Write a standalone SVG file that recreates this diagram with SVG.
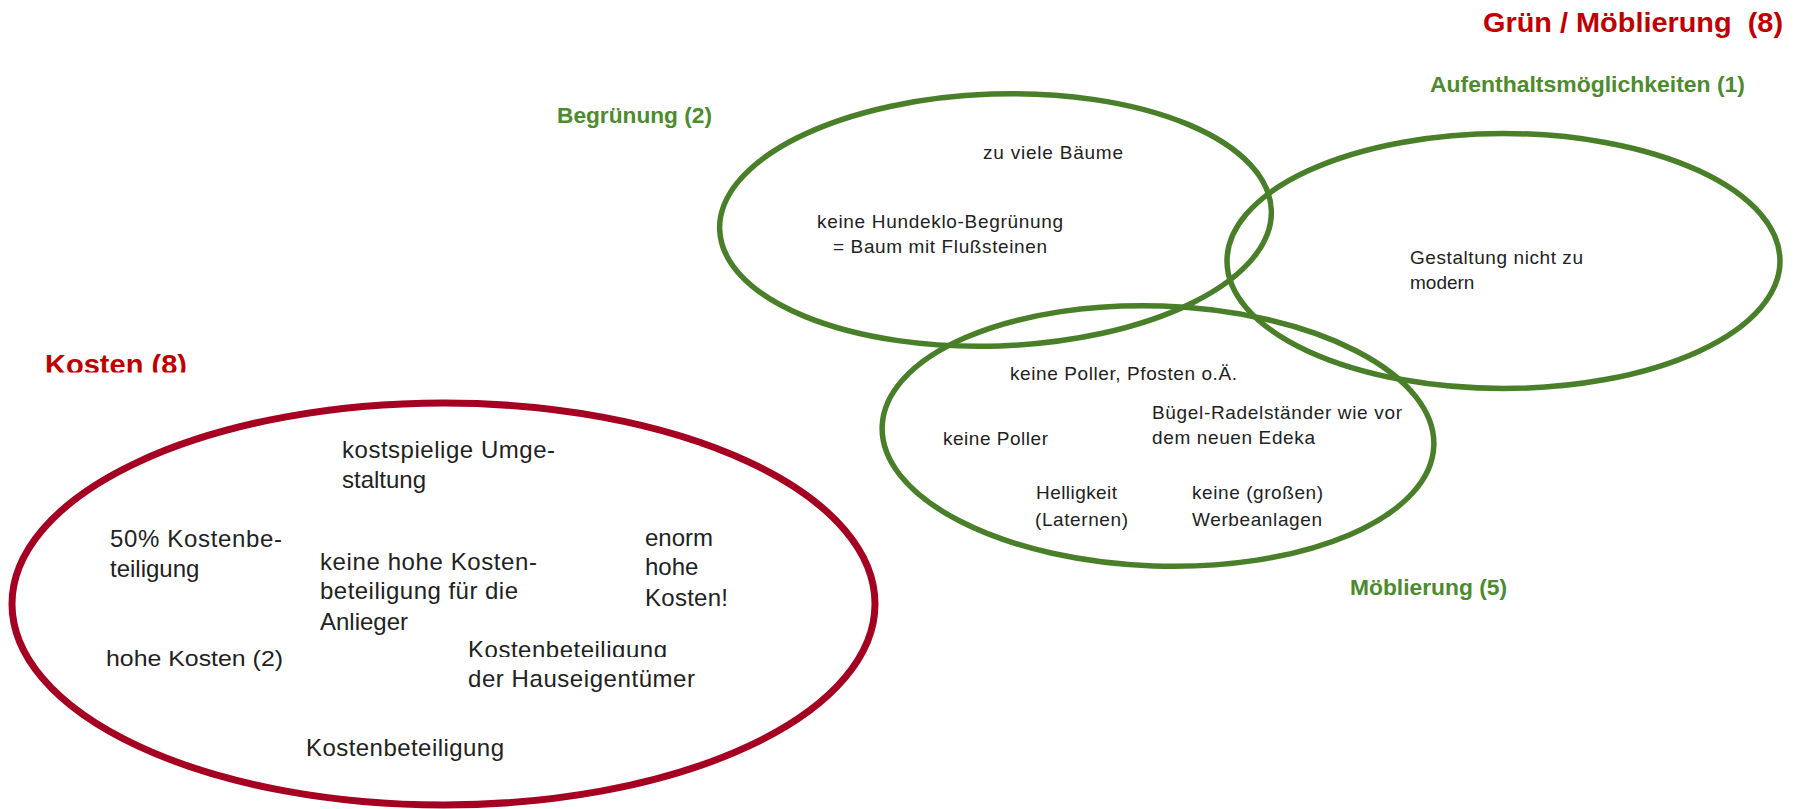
<svg xmlns="http://www.w3.org/2000/svg" width="1794" height="809" viewBox="0 0 1794 809">
<defs>
<style>
.bg{fill:#ffffff}
.eg{fill:none;stroke:#4a7f2a;stroke-width:5.5}
.er{fill:none;stroke:#a50021;stroke-width:7}
.t{font-family:"Liberation Sans",Arial,sans-serif;fill:#222222}
.s{font-size:19px}
.m{font-size:24px}
.gl{font-family:"Liberation Sans",Arial,sans-serif;font-weight:bold;font-size:22px;fill:#4e8a2e}
.rl{font-family:"Liberation Sans",Arial,sans-serif;font-weight:bold;font-size:27px;fill:#c00000}
</style>
<clipPath id="clipK"><rect x="0" y="330" width="400" height="42.5"/></clipPath>
<clipPath id="clipKB"><rect x="440" y="620" width="300" height="37"/></clipPath>
</defs>
<rect class="bg" x="0" y="0" width="1794" height="809"/>

<g id="title">
<text class="rl" x="1483" y="32" textLength="300" lengthAdjust="spacingAndGlyphs">Grün / Möblierung &#160;(8)</text>
</g>

<g id="begruenung">
<ellipse class="eg" cx="995.5" cy="220" rx="276" ry="126" transform="rotate(-2 995.5 220)"/>
<text class="gl" x="557" y="123" textLength="155" lengthAdjust="spacingAndGlyphs">Begrünung (2)</text>
<text class="t s" x="983" y="159" textLength="140">zu viele Bäume</text>
<text class="t s" x="817" y="228" textLength="246">keine Hundeklo-Begrünung</text>
<text class="t s" x="833" y="253" textLength="214">= Baum mit Flußsteinen</text>
</g>

<g id="aufenthalt">
<ellipse class="eg" cx="1503.5" cy="261" rx="276.5" ry="127.5"/>
<text class="gl" x="1430" y="92" textLength="315" lengthAdjust="spacingAndGlyphs">Aufenthaltsmöglichkeiten (1)</text>
<text class="t s" x="1410" y="264" textLength="173">Gestaltung nicht zu</text>
<text class="t s" x="1410" y="289">modern</text>
</g>

<g id="moeblierung">
<ellipse class="eg" cx="1158" cy="436" rx="276" ry="130" transform="rotate(2 1158 436)"/>
<text class="gl" x="1350" y="595" textLength="157" lengthAdjust="spacingAndGlyphs">Möblierung (5)</text>
<text class="t s" x="1010" y="380" textLength="227">keine Poller, Pfosten o.Ä.</text>
<text class="t s" x="943" y="445" textLength="105">keine Poller</text>
<text class="t s" x="1152" y="419" textLength="250">Bügel-Radelständer wie vor</text>
<text class="t s" x="1152" y="444" textLength="163">dem neuen Edeka</text>
<text class="t s" x="1036" y="499" textLength="81">Helligkeit</text>
<text class="t s" x="1035" y="526" textLength="93">(Laternen)</text>
<text class="t s" x="1192" y="499" textLength="131">keine (großen)</text>
<text class="t s" x="1192" y="526" textLength="130">Werbeanlagen</text>
</g>

<g id="kosten">
<ellipse class="er" cx="443.5" cy="604" rx="431.5" ry="201"/>
<text class="rl" x="45" y="374" textLength="142" lengthAdjust="spacingAndGlyphs" clip-path="url(#clipK)">Kosten (8)</text>
<text class="t m" x="342" y="458" textLength="213">kostspielige Umge-</text>
<text class="t m" x="342" y="488">staltung</text>
<text class="t m" x="110" y="547" textLength="172">50% Kostenbe-</text>
<text class="t m" x="110" y="577">teiligung</text>
<text class="t m" x="320" y="570" textLength="217">keine hohe Kosten-</text>
<text class="t m" x="320" y="599" textLength="198">beteiligung für die</text>
<text class="t m" x="320" y="630">Anlieger</text>
<text class="t m" x="645" y="546">enorm</text>
<text class="t m" x="645" y="575">hohe</text>
<text class="t m" x="645" y="606" textLength="83">Kosten!</text>
<text class="t" style="font-size:22px" x="106" y="666" textLength="177" lengthAdjust="spacingAndGlyphs">hohe Kosten (2)</text>
<text class="t m" x="468" y="658" textLength="199" clip-path="url(#clipKB)">Kostenbeteiligung</text>
<text class="t m" x="468" y="687" textLength="227">der Hauseigentümer</text>
<text class="t m" x="306" y="756" textLength="198">Kostenbeteiligung</text>
</g>

<g id="connectors"/>
</svg>
